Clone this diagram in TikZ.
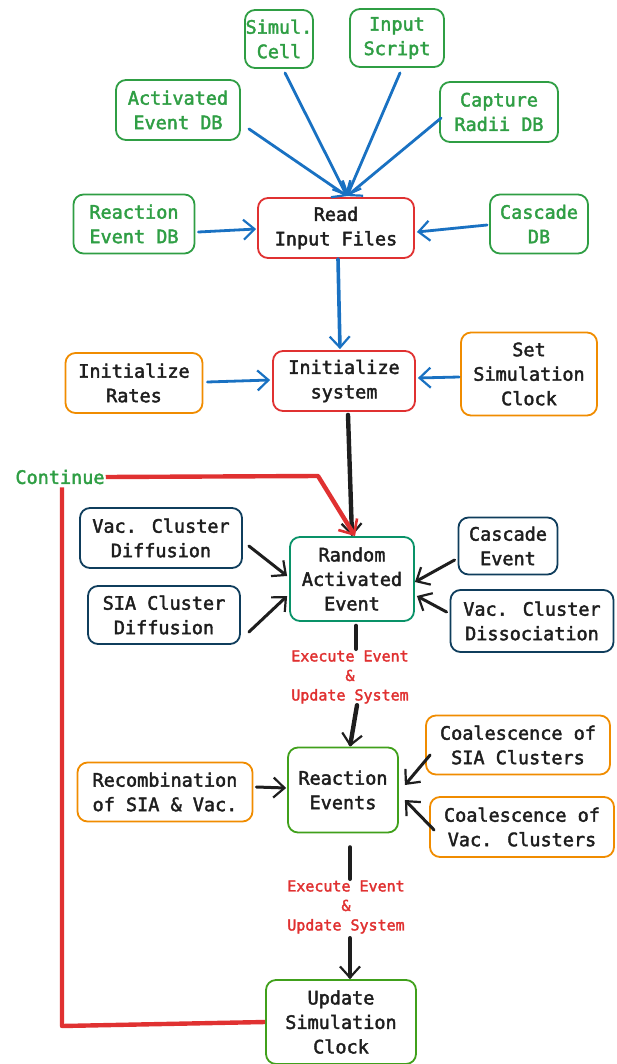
\documentclass[tikz,border=0pt]{standalone}
\usepackage{fontspec}
\newfontfamily\mono[FakeBold=2.2]{DejaVu Sans Mono}
\usetikzlibrary{arrows.meta}
\definecolor{xgreen}{HTML}{2F9E44}
\definecolor{xred}{HTML}{E03131}
\definecolor{xblue}{HTML}{1971C2}
\definecolor{xorange}{HTML}{F08C00}
\definecolor{xnavy}{HTML}{0F3D5C}
\definecolor{xteal}{HTML}{099268}
\definecolor{xlime}{HTML}{40A01B}
\definecolor{xblack}{HTML}{1E1E1E}
\tikzset{
  box/.style={draw, rounded corners=10pt, line width=1.8pt, align=center,
    font=\mono\fontsize{18.5}{24.5}\selectfont, inner sep=0pt, text=xblack},
  gbox/.style={box, draw=xgreen, text=xgreen},
  rbox/.style={box, draw=xred},
  obox/.style={box, draw=xorange},
  nbox/.style={box, draw=xnavy},
  lbl/.style={align=center, text=xred, font=\mono\fontsize{15}{19.5}\selectfont, inner sep=0pt, minimum height=56pt},
  tip/.style={-{Straight Barb[length=11pt,width=20pt,line width=2.2pt]}},
  barrow/.style={tip, draw=xblue, line width=2.8pt, line cap=round},
  karrow/.style={tip, draw=xblack, line width=3pt, line cap=round},
  kthick/.style={draw=xblack, line width=4.4pt, line cap=round},
  redline/.style={draw=xred, line width=4.4pt, line join=round},
}
\begin{document}
\begin{tikzpicture}[x=1pt,y=-1pt]
\useasboundingbox (0,0) rectangle (616,1064);
% top inputs
\node[gbox, minimum width=68pt, minimum height=58pt] (simul) at (279,39) {Simul.\\Cell};
\node[gbox, minimum width=94pt, minimum height=58pt] (script) at (397,38) {Input\\Script};
\node[gbox, minimum width=124pt, minimum height=60pt] (actdb) at (178,110) {Activated\\Event DB};
\node[gbox, minimum width=118pt, minimum height=60pt] (capdb) at (499,112) {Capture\\Radii DB};
\node[gbox, minimum width=121pt, minimum height=59pt] (reacdb) at (134,224) {Reaction\\Event DB};
\node[gbox, minimum width=98pt, minimum height=59pt] (casdb) at (539,224) {Cascade\\DB};
\node[rbox, minimum width=156pt, minimum height=60pt] (read) at (336,228) {Read\\Input Files};
% init row
\node[obox, minimum width=137pt, minimum height=60pt] (rates) at (134,383) {Initialize\\Rates};
\node[rbox, minimum width=142pt, minimum height=60pt] (init) at (344,381) {Initialize\\system};
\node[obox, minimum width=136pt, minimum height=83pt] (clock) at (529,374) {Set\\Simulation\\Clock};
% continue
\node[text=xgreen, font=\mono\fontsize{18.5}{24.5}\selectfont, inner sep=1pt] (cont) at (60,477) {Continue};
% activated events
\node[nbox, minimum width=162pt, minimum height=60pt] (vcd) at (161,538) {Vac. Cluster\\Diffusion};
\node[nbox, minimum width=152pt, minimum height=58pt] (siad) at (164,615) {SIA Cluster\\Diffusion};
\node[box, draw=xteal, minimum width=124pt, minimum height=84pt] (rae) at (352,579) {Random\\Activated\\Event};
\node[nbox, minimum width=99pt, minimum height=57pt] (case) at (508,546) {Cascade\\Event};
\node[nbox, minimum width=163pt, minimum height=62pt] (vcdis) at (532,621) {Vac. Cluster\\Dissociation};
\node[lbl] (ex1) at (350,677) {Execute Event\\\&\\Update System};
% reaction events
\node[box, draw=xlime, minimum width=110pt, minimum height=85pt] (rr) at (343,790) {Reaction\\Events};
\node[obox, minimum width=184pt, minimum height=59pt] (csia) at (518,745) {Coalescence of\\SIA Clusters};
\node[obox, minimum width=175pt, minimum height=59pt] (recomb) at (165,792) {Recombination\\of SIA \& Vac.};
\node[obox, minimum width=184pt, minimum height=60pt] (cvac) at (522,827) {Coalescence of\\Vac. Clusters};
\node[lbl] (ex2) at (346,907) {Execute Event\\\&\\Update System};
\node[box, draw=xlime, minimum width=150pt, minimum height=84pt] (usc) at (341,1022) {Update\\Simulation\\Clock};
\coordinate (corner) at (62,1026);
\coordinate (bend) at (318,476);
% blue connectors
\draw[barrow] ([xshift=6pt,yshift=-4pt]simul.south) -- ([xshift=11pt,yshift=1pt]read.north);
\draw[barrow] ([xshift=3pt,yshift=-5pt]script.south) -- ([xshift=11pt,yshift=1pt]read.north);
\draw[barrow] ([xshift=8pt,yshift=12pt]actdb.south east) -- ([xshift=11pt,yshift=1pt]read.north);
\draw[barrow] ([xshift=2pt,yshift=-6pt]capdb.west) -- ([xshift=11pt,yshift=1pt]read.north);
\draw[barrow] ([xshift=3pt,yshift=-8pt]reacdb.east) -- ([xshift=-1pt,yshift=-1pt]read.west);
\draw[barrow] ([xshift=-2pt,yshift=-1pt]casdb.west) -- ([xshift=2pt,yshift=-4pt]read.east);
\draw[barrow, line width=3.6pt] ([xshift=2pt]read.south) -- ([xshift=-4pt,yshift=1pt]init.north);
\draw[barrow] ([xshift=4pt,yshift=1pt]rates.east) -- ([xshift=-2pt,yshift=1pt]init.west);
\draw[barrow] ([xshift=-1pt,yshift=-3pt]clock.west) -- ([xshift=2pt,yshift=3pt]init.east);
% black main flow
\draw[kthick, tip] ([xshift=4pt,yshift=-3pt]init.south) -- (rae.north);
\draw[karrow] ([xshift=6pt,yshift=-8pt]vcd.east) -- ([xshift=-2pt,yshift=3pt]rae.west);
\draw[karrow] ([xshift=8pt,yshift=-17pt]siad.east) -- ([xshift=-2pt,yshift=-17pt]rae.west);
\draw[karrow] ([xshift=-3pt,yshift=-14pt]case.west) -- ([yshift=-3pt]rae.east);
\draw[karrow] ([xshift=-3pt,yshift=9pt]vcdis.west) -- ([xshift=2pt,yshift=-17pt]rae.east);
\draw[kthick] ([xshift=4pt,yshift=-4pt]rae.south) -- ([xshift=6pt]ex1.north);
\draw[kthick, tip] ([xshift=7pt]ex1.south) -- ([xshift=7pt]rr.north);
\draw[karrow] ([xshift=3pt,yshift=5pt]recomb.east) -- ([xshift=-1pt,yshift=2pt]rr.west);
\draw[karrow] ([xshift=5pt,yshift=-10pt]csia.west) -- ([xshift=6pt,yshift=5pt]rr.east);
\draw[karrow] ([xshift=5pt,yshift=-3pt]cvac.west) -- ([xshift=6pt,yshift=-10pt]rr.east);
\draw[kthick] ([xshift=7pt,yshift=-14pt]rr.south) -- ([xshift=4pt]ex2.north);
\draw[kthick, tip] ([xshift=4pt,yshift=-3pt]ex2.south) -- ([xshift=9pt]usc.north);
% red continue loop
\draw[redline, -{Straight Barb[length=12pt,width=22pt,line width=2.6pt]}] (cont.east) -- (bend) -- ([xshift=3pt]rae.north);
\draw[redline] ([xshift=2pt,yshift=-2pt]cont.south) -- (corner) -- (usc.west);
\end{tikzpicture}
\end{document}
